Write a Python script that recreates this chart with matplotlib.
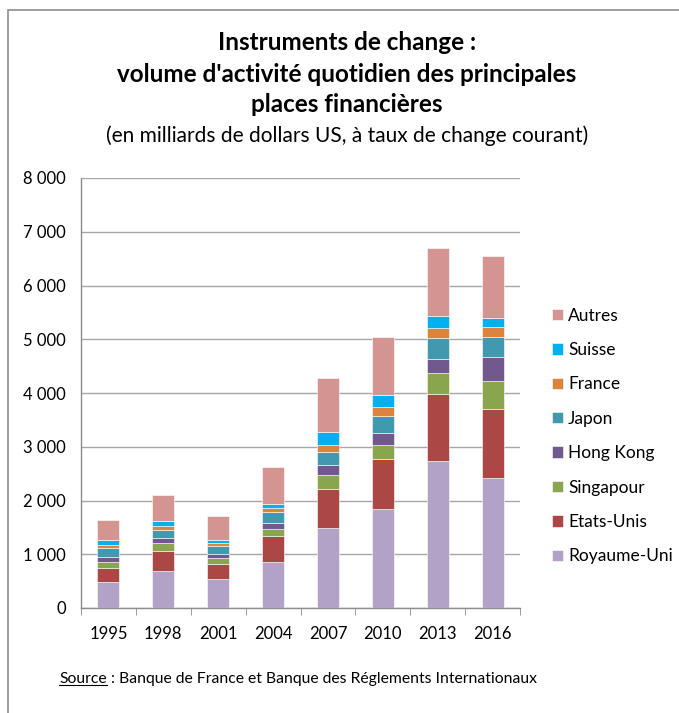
import matplotlib
matplotlib.use("Agg")
import matplotlib.pyplot as plt
import numpy as np
from matplotlib.lines import Line2D
from matplotlib.patches import Rectangle

plt.rcParams["font.family"] = ["Lato", "DejaVu Sans"]

years = ["1995", "1998", "2001", "2004", "2007", "2010", "2013", "2016"]
series = ["Royaume-Uni", "Etats-Unis", "Singapour", "Hong Kong",
          "Japon", "France", "Suisse", "Autres"]
colors = ["#B3A2C7", "#AB4744", "#89A54E", "#71588F",
          "#4198AF", "#DB843D", "#00B0F0", "#D39492"]

royaume_uni = [476, 693, 545, 848, 1481, 1846, 2727, 2422]
etats_unis = [273, 372, 272, 483, 737, 918, 1256, 1283]
singapour = [112, 149, 118, 137, 254, 266, 391, 520]
hong_kong = [92, 93, 69, 117, 186, 235, 267, 440]
japon = [168, 148, 142, 205, 236, 304, 383, 378]
france = [56, 62, 55, 62, 130, 167, 186, 180]
suisse = [93, 106, 69, 87, 253, 236, 223, 167]
autres = [371, 483, 433, 675, 993, 1078, 1258, 1153]

data = [royaume_uni, etats_unis, singapour, hong_kong,
        japon, france, suisse, autres]

W, H = 679, 713
fig = plt.figure(figsize=(W / 100, H / 100), dpi=100)

# frame around the chart
fig.patches.append(Rectangle((8 / W, -0.1), 1.2, 1 - 10 / H + 0.1,
                             transform=fig.transFigure, fill=False,
                             edgecolor="#8C8C8C", linewidth=1.2))

ax = fig.add_axes([81 / W, 1 - 608 / H, (520 - 81) / W, (608 - 178) / H])
x = np.arange(len(years))
bottom = np.zeros(len(years))
for name, vals, c in zip(series, data, colors):
    ax.bar(x, vals, 0.4, bottom=bottom, color=c, label=name,
           edgecolor="white", linewidth=0.4, zorder=3)
    bottom += np.array(vals)

ax.set_xlim(-0.5, len(years) - 0.5)
ax.set_ylim(0, 8000)
ax.set_yticks(np.arange(0, 8001, 1000))
ax.set_yticklabels([f"{v:,}".replace(",", " ") for v in range(0, 8001, 1000)],
                   fontsize=12)
ax.set_xticks(x)
ax.set_xticklabels(years, fontsize=12)
ax.set_xticks(np.arange(-0.5, len(years)), minor=True)
ax.tick_params(axis="x", which="major", length=0, pad=13)
ax.tick_params(axis="x", which="minor", length=5, color="#8C8C8C")
ax.tick_params(axis="y", length=0, pad=11)
ax.grid(axis="y", color="#A6A6A6", linewidth=1.0, zorder=0)
for s in ["top", "right"]:
    ax.spines[s].set_visible(False)
for s in ["left", "bottom"]:
    ax.spines[s].set_color("#8C8C8C")
    ax.spines[s].set_linewidth(1.0)

handles, labels = ax.get_legend_handles_labels()
ax.legend(handles[::-1], labels[::-1], loc="center left",
          bbox_to_anchor=(536 / W, 1 - 436 / H), bbox_transform=fig.transFigure,
          frameon=False, fontsize=12.5, handlelength=0.65, handleheight=0.65,
          handletextpad=0.3, labelspacing=1.06)

fig.text(347 / W, 1 - 43 / H, "Instruments de change :", ha="center",
         va="center", fontsize=17.5, fontweight="bold")
fig.text(347 / W, 1 - 75 / H, "volume d'activité quotidien des principales",
         ha="center", va="center", fontsize=17.5, fontweight="bold")
fig.text(347 / W, 1 - 105 / H, "places financières", ha="center",
         va="center", fontsize=17.5, fontweight="bold")
fig.text(347 / W, 1 - 136 / H,
         "(en milliards de dollars US, à taux de change courant)",
         ha="center", va="center", fontsize=15)

src = fig.text(59 / W, 1 - 679 / H, "Source", ha="left", va="center",
               fontsize=11.3)
rest = fig.text(0, 1 - 679 / H,
                " : Banque de France et Banque des Réglements Internationaux",
                ha="left", va="center", fontsize=11.3)
r = fig.canvas.get_renderer()
bb = src.get_window_extent(renderer=r)
rest.set_x(bb.x1 / W)
fig.lines.append(Line2D([bb.x0 / W, bb.x1 / W], [(bb.y0 + 1) / H] * 2,
                        transform=fig.transFigure, color="black", linewidth=0.8))

fig.savefig("out.png", dpi=100)
